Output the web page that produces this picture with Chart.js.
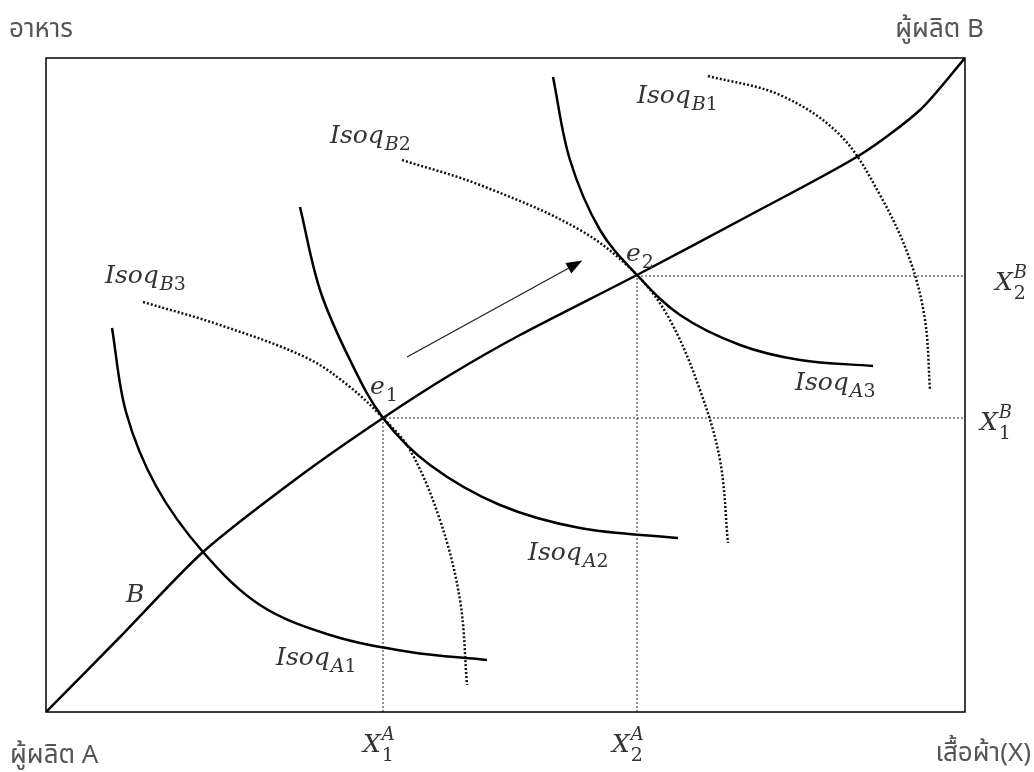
<!DOCTYPE html>
<html>
<head>
<meta charset="utf-8">
<script src="https://cdn.jsdelivr.net/npm/chart.js@4.4.0/dist/chart.umd.min.js"></script>
<style>
body { margin: 0; background: #fff; }
canvas { display: block; }
</style>
</head>
<body>
<canvas id="box" width="1034" height="772"></canvas>
<script>
// Edgeworth box, producer A at bottom-left, producer B at top-right
// contract curve B
const contractX = [0, 74, 157, 254, 337, 404, 474, 591, 704, 814, 874, 919];
const contractY = [0, 75, 160, 236, 294, 337, 377, 437, 497, 557, 602, 654];

// isoquants of A (solid)
const isoA1X = [66, 80, 110, 157, 214, 284, 364, 441];
const isoA1Y = [384, 300, 226, 160, 107, 77, 60, 52];
const isoA2X = [254, 274, 304, 337, 384, 454, 534, 632];
const isoA2Y = [505, 422, 352, 294, 247, 207, 184, 174];
const isoA3X = [507, 524, 554, 591, 634, 694, 754, 827];
const isoA3Y = [635, 552, 482, 437, 397, 367, 352, 346];

// isoquants of B (dotted)
const isoB3X = [97, 174, 261, 304, 337, 364, 394, 414, 421];
const isoB3Y = [410, 387, 354, 325, 294, 262, 192, 112, 27];
const isoB2X = [356, 434, 534, 591, 624, 654, 674, 682];
const isoB2Y = [552, 527, 482, 437, 392, 322, 252, 169];
const isoB1X = [662, 734, 794, 834, 864, 879, 884];
const isoB1Y = [636, 617, 577, 517, 452, 392, 322];

// equilibrium points e1, e2
const eqX = [337, 591];
const eqY = [294, 436];

// arrow along the contract curve
const arrowX = [361, 532];
const arrowY = [355, 449];

const boxW = 919, boxH = 654;

const pts = (xs, ys) => xs.map((x, i) => ({ x: x, y: ys[i] }));

const solid = { borderColor: '#000', borderWidth: 2.5, pointRadius: 0, showLine: true, tension: 0.35, fill: false };
const dotted = { borderColor: '#111', borderWidth: 2.5, borderDash: [2, 2], pointRadius: 0, showLine: true, tension: 0.35, fill: false };
const guide = { borderColor: '#222', borderWidth: 1, borderDash: [2, 2], pointRadius: 0, showLine: true, tension: 0, fill: false };

const datasets = [
    Object.assign({ data: pts(contractX, contractY) }, solid, { tension: 0.25 }),
    Object.assign({ data: pts(isoA1X, isoA1Y) }, solid),
    Object.assign({ data: pts(isoA2X, isoA2Y) }, solid),
    Object.assign({ data: pts(isoA3X, isoA3Y) }, solid),
    Object.assign({ data: pts(isoB3X, isoB3Y) }, dotted),
    Object.assign({ data: pts(isoB2X, isoB2Y) }, dotted),
    Object.assign({ data: pts(isoB1X, isoB1Y) }, dotted),
    // dotted guides from e1 and e2
    Object.assign({ data: [{ x: eqX[0], y: 0 }, { x: eqX[0], y: eqY[0] }, { x: boxW, y: eqY[0] }] }, guide),
    Object.assign({ data: [{ x: eqX[1], y: 0 }, { x: eqX[1], y: eqY[1] }, { x: boxW, y: eqY[1] }] }, guide),
    Object.assign({ data: pts(arrowX, arrowY) }, guide, { borderDash: [], borderWidth: 1.3 })
];

const mathFont = '"DejaVu Serif", "Liberation Serif", serif';
const thaiFont = '"Noto Sans Thai", "Noto Sans", "DejaVu Sans", sans-serif';

// math labels: base, subscript, superscript, left/baseline in box units
const mathLabels = [
    { t: 'Isoq', sub: 'B1', x: 591, y: 609 },
    { t: 'Isoq', sub: 'B2', x: 284, y: 569 },
    { t: 'Isoq', sub: 'B3', x: 59, y: 429 },
    { t: 'Isoq', sub: 'A1', x: 230, y: 47 },
    { t: 'Isoq', sub: 'A2', x: 482, y: 152 },
    { t: 'Isoq', sub: 'A3', x: 749, y: 322 },
    { t: 'B', x: 80, y: 110 },
    { t: 'e', sub: '1', x: 324, y: 318 },
    { t: 'e', sub: '2', x: 580, y: 451 },
    { t: 'X', sub: '1', sup: 'A', x: 317, y: -40 },
    { t: 'X', sub: '2', sup: 'A', x: 566, y: -40 },
    { t: 'X', sub: '2', sup: 'B', x: 949, y: 422 },
    { t: 'X', sub: '1', sup: 'B', x: 934, y: 282 }
];

function drawScript(ctx, s, x, y, size) {
    // letters italic, digits upright
    for (const ch of s) {
        ctx.font = (/[0-9]/.test(ch) ? '' : 'italic ') + size + 'px ' + mathFont;
        ctx.fillText(ch, x, y);
        x += ctx.measureText(ch).width;
    }
}

const boxPlugin = {
    id: 'boxPlugin',
    afterDraw(chart) {
        const ctx = chart.ctx;
        const a = chart.chartArea;
        const xs = chart.scales.x, ys = chart.scales.y;
        ctx.save();
        // frame
        ctx.strokeStyle = '#000';
        ctx.lineWidth = 1.5;
        ctx.strokeRect(a.left, a.top, a.right - a.left, a.bottom - a.top);

        // arrow head
        const x0 = xs.getPixelForValue(arrowX[0]), y0 = ys.getPixelForValue(arrowY[0]);
        const x1 = xs.getPixelForValue(arrowX[1]), y1 = ys.getPixelForValue(arrowY[1]);
        const ang = Math.atan2(y1 - y0, x1 - x0);
        ctx.fillStyle = '#000';
        ctx.beginPath();
        ctx.moveTo(x1 + 5 * Math.cos(ang), y1 + 5 * Math.sin(ang));
        ctx.lineTo(x1 - 11 * Math.cos(ang) + 6 * Math.sin(ang), y1 - 11 * Math.sin(ang) - 6 * Math.cos(ang));
        ctx.lineTo(x1 - 11 * Math.cos(ang) - 6 * Math.sin(ang), y1 - 11 * Math.sin(ang) + 6 * Math.cos(ang));
        ctx.closePath();
        ctx.fill();

        // math labels
        ctx.fillStyle = '#333';
        ctx.textBaseline = 'alphabetic';
        ctx.textAlign = 'left';
        mathLabels.forEach(l => {
            const px = xs.getPixelForValue(l.x), py = ys.getPixelForValue(l.y);
            const size = 25;
            ctx.font = 'italic ' + size + 'px ' + mathFont;
            ctx.fillText(l.t, px, py);
            const w = ctx.measureText(l.t).width + 1;
            if (l.sub) drawScript(ctx, l.sub, px + w, py + (l.sup ? 9 : 7), 19);
            if (l.sup) drawScript(ctx, l.sup, px + w, py - 12, 18);
        });

        // axis / owner captions
        ctx.fillStyle = '#555';
        ctx.font = '26px ' + thaiFont;
        ctx.textAlign = 'left';
        ctx.fillText('อาหาร', 9, 37);
        ctx.fillText('ผู้ผลิต A', 10, 763);
        ctx.textAlign = 'right';
        ctx.fillText('ผู้ผลิต B', 984, 37);
        ctx.fillText('เสื้อผ้า(X)', 1031, 761);
        ctx.restore();
    }
};

new Chart(document.getElementById('box'), {
    type: 'scatter',
    data: { datasets: datasets },
    options: {
        responsive: false,
        animation: false,
        layout: { padding: { left: 46, top: 58, right: 69, bottom: 60 } },
        plugins: { legend: { display: false }, tooltip: { enabled: false } },
        scales: {
            x: { type: 'linear', min: 0, max: boxW, display: false },
            y: { type: 'linear', min: 0, max: boxH, display: false }
        }
    },
    plugins: [boxPlugin]
});
</script>
</body>
</html>
